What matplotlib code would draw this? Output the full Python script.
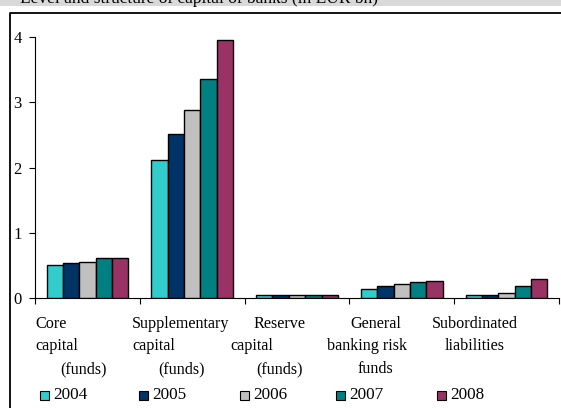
import matplotlib
matplotlib.use("Agg")
import matplotlib.pyplot as plt
from matplotlib.lines import Line2D
from matplotlib.patches import Rectangle
import numpy as np

plt.rcParams['font.family'] = ['Liberation Serif', 'DejaVu Serif']

categories = [
    ["Core", "capital", "(funds)"],
    ["Supplementary", "capital", "(funds)"],
    ["Reserve", "capital", "(funds)"],
    ["General", "banking risk", "funds"],
    ["Subordinated", "liabilities"],
]
years = ["2004", "2005", "2006", "2007", "2008"]
values = {
    "2004": [0.51, 2.11, 0.05, 0.14, 0.05],
    "2005": [0.53, 2.51, 0.05, 0.19, 0.05],
    "2006": [0.55, 2.88, 0.05, 0.21, 0.07],
    "2007": [0.62, 3.36, 0.05, 0.24, 0.19],
    "2008": [0.62, 3.95, 0.05, 0.26, 0.29],
}
colors = ["#33CCCC", "#003366", "#C0C0C0", "#008080", "#993366"]
yticks = [0, 1, 2, 3, 4]
title = "Level and structure of capital of banks (in EUR bn)"

W, H = 561, 408
fig = plt.figure(figsize=(W / 100, H / 100), dpi=100)

def fx(px):
    return px / W

def fy(py):
    return 1 - py / H

# top grey band with clipped title (as in the reference, only its lower part shows)
fig.patches.append(Rectangle((0, fy(6)), 1, 6 / H, transform=fig.transFigure,
                             facecolor="#D9D9D9", edgecolor="none", zorder=0))
fig.text(fx(20), fy(3), title, fontsize=12.5, va="baseline", ha="left", color="black")

# outer frame
fig.lines.append(Line2D([fx(10), fx(10), 1.0], [0, fy(13), fy(13)],
                        transform=fig.transFigure, color="black", lw=1.3))

ax = fig.add_axes([fx(35), 1 - 298 / H, fx(559) - fx(35), (298 - 37) / H])
n = len(categories)
x = np.arange(n)
bw = 0.156
for i, yr in enumerate(years):
    ax.bar(x + (i - 2) * bw, values[yr], width=bw, color=colors[i],
           edgecolor="black", linewidth=1.0, zorder=3)

ax.set_xlim(-0.5, n - 0.5)
ax.set_ylim(0, 4)
ax.set_yticks(yticks)
ax.set_yticklabels([str(t) for t in yticks], fontsize=12)
ax.set_xticks(np.arange(n + 1) - 0.5)
ax.set_xticklabels([])
ax.tick_params(axis="y", direction="out", length=4, width=0.8, pad=11.5)
ax.tick_params(axis="x", direction="out", length=4, width=0.8)
for lab in ax.get_yticklabels():
    lab.set_horizontalalignment("left")
ax.spines["top"].set_visible(False)
ax.spines["right"].set_visible(False)
ax.spines["left"].set_linewidth(0.8)
ax.spines["bottom"].set_linewidth(0.8)

# category labels (Excel-like wrapped layout)
line_x = [
    [35, 35, 60],
    [132, 132, 158],
    [253, 230, 256],
    [350, 327, 358],
    [432, 445],
]
line_y = [324, 346, 369]
for cat, xs in zip(categories, line_x):
    for j, (txt, px) in enumerate(zip(cat, xs)):
        fig.text(fx(px), fy(line_y[j]), txt, fontsize=11.6, ha="left", va="center")

# legend
leg_sq = [40, 139, 240, 336, 437]
for i, yr in enumerate(years):
    px = leg_sq[i]
    fig.patches.append(Rectangle((fx(px), fy(400)), 9 / W, 9 / H, transform=fig.transFigure,
                                 facecolor=colors[i], edgecolor="black", lw=0.8))
    fig.text(fx(px + 13), fy(395), yr, fontsize=12.3, ha="left", va="center")

fig.savefig("out.png", dpi=100)
